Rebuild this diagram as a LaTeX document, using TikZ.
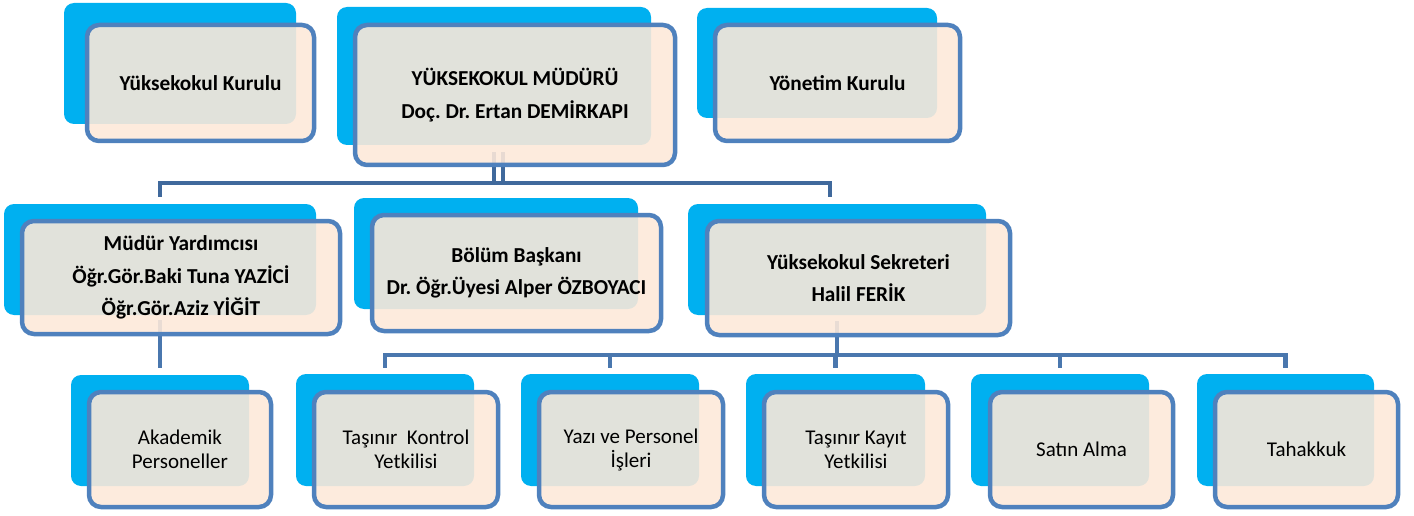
\documentclass[tikz,border=0pt]{standalone}
\usepackage{fontspec}
\setmainfont{Carlito}
\frenchspacing
\usetikzlibrary{calc}
\pgfdeclarelayer{bg}
\pgfsetlayers{bg,main}
\definecolor{backblue}{HTML}{00B0F0}
\definecolor{peach}{HTML}{FDE9D9}
\definecolor{frame}{HTML}{4F81BD}
\definecolor{linetop}{HTML}{40699C}
\definecolor{linebot}{HTML}{4A77AE}
\tikzset{
  span/.style n args={4}{at={({(#1+#3)/2},{(#2+#4)/2})},
    minimum width={(#3-#1)*1pt}, minimum height={(#4-#2)*1pt}},
  backbox/.style={fill=backblue, draw=none, rounded corners=10pt, inner sep=0pt},
  frontbox/.style={fill=peach, fill opacity=0.89, text opacity=1, draw=frame, draw opacity=1,
    line width=4.5pt, rounded corners=12pt, inner sep=0pt, align=center, text=black},
  boldtxt/.style={font=\fontsize{21.3}{32.5}\selectfont\bfseries},
  regtxt/.style={font=\fontsize{21}{24}\selectfont},
  conntop/.style={draw=linetop, line width=4.5pt},
  connbot/.style={draw=linebot, line width=4.5pt},
}
\begin{document}
\begin{tikzpicture}[x=1pt,y=-1pt]
\useasboundingbox (0,0) rectangle (1414,516);
% back boxes
\node[backbox, span={64}{3}{296}{124}] (kurB) {};
\node[backbox, span={337}{7}{651}{145}] (mudB) {};
\node[backbox, span={697}{8}{937}{118}] (yonB) {};
\node[backbox, span={4}{204}{316}{315}] (myrdB) {};
\node[backbox, span={354}{198}{638}{309}] (bolB) {};
\node[backbox, span={688}{204}{986}{315}] (sekB) {};
\node[backbox, span={71}{375}{249}{486}] (akaB) {};
\node[backbox, span={296}{374}{474}{486}] (tkB) {};
\node[backbox, span={521}{374}{699}{486}] (yazB) {};
\node[backbox, span={746}{374}{925}{486}] (kayB) {};
\node[backbox, span={971}{374}{1149}{486}] (satB) {};
\node[backbox, span={1197}{374}{1374}{486}] (tahB) {};
% front boxes
\node[frontbox, boldtxt, span={87}{25}{314}{141}] (kur) {Yüksekokul Kurulu};
\node[frontbox, boldtxt, span={355}{25}{675}{165}] (mud) {YÜKSEKOKUL MÜDÜRÜ\\Doç. Dr. Ertan DEMİRKAPI};
\node[frontbox, boldtxt, span={715}{25}{960}{141}] (yon) {Yönetim Kurulu};
\node[frontbox, boldtxt, span={22}{221}{340}{334}] (myrd) {Müdür Yardımcısı\\Öğr.Gör.Baki Tuna YAZİCİ\\Öğr.Gör.Aziz YİĞİT};
\node[frontbox, boldtxt, span={372}{215}{661}{331}] (bol) {Bölüm Başkanı\\Dr. Öğr.Üyesi Alper ÖZBOYACI};
\node[frontbox, boldtxt, span={707}{221}{1010}{335}] (sek) {Yüksekokul Sekreteri\\Halil FERİK};
\node[frontbox, regtxt, span={89}{392}{271}{507}] (aka) {Akademik\\Personeller};
\node[frontbox, regtxt, span={314}{392}{498}{507}] (tk) {Taşınır\ \ Kontrol\\Yetkilisi};
\node[frontbox, regtxt, span={539}{392}{723}{507}] (yaz) {Yazı ve Personel\\İşleri};
\node[frontbox, regtxt, span={764}{392}{948}{507}] (kay) {Taşınır Kayıt\\Yetkilisi};
\node[frontbox, regtxt, span={990}{392}{1173}{507}] (sat) {Satın Alma};
\node[frontbox, regtxt, span={1215}{392}{1398}{507}] (tah) {Tahakkuk};
% connectors
\begin{pgfonlayer}{bg}
\coordinate (busA) at (0,183);
\coordinate (busB) at (0,355);
\coordinate (sekTop) at ($(sekB.north)+(-7,0)$);
\draw[conntop, shorten <=7pt] (mudB.south) -- (mudB.south |- busA);
\draw[conntop, shorten <=7pt] ($(mudB.south)+(9,0)$) -- ($(mudB.south |- busA)+(9,0)$);
\draw[conntop, shorten <=7pt, shorten >=7pt] (myrdB.north) -- (myrdB.north |- busA) -- (sekTop |- busA) -- (sekTop);
\draw[connbot, shorten <=5pt, shorten >=7pt] (myrdB.south) -- (akaB.north);
\draw[connbot, shorten <=6pt] (sekB.south) -- (sekB.south |- busB);
\draw[connbot, shorten <=6pt, shorten >=6pt] (tkB.north) -- (tkB.north |- busB) -- (tahB.north |- busB) -- (tahB.north);
\draw[connbot, shorten >=6pt] (yazB.north |- busB) -- (yazB.north);
\draw[connbot, shorten >=6pt] (kayB.north |- busB) -- (kayB.north);
\draw[connbot, shorten >=6pt] (satB.north |- busB) -- (satB.north);
\end{pgfonlayer}
\end{tikzpicture}
\end{document}
